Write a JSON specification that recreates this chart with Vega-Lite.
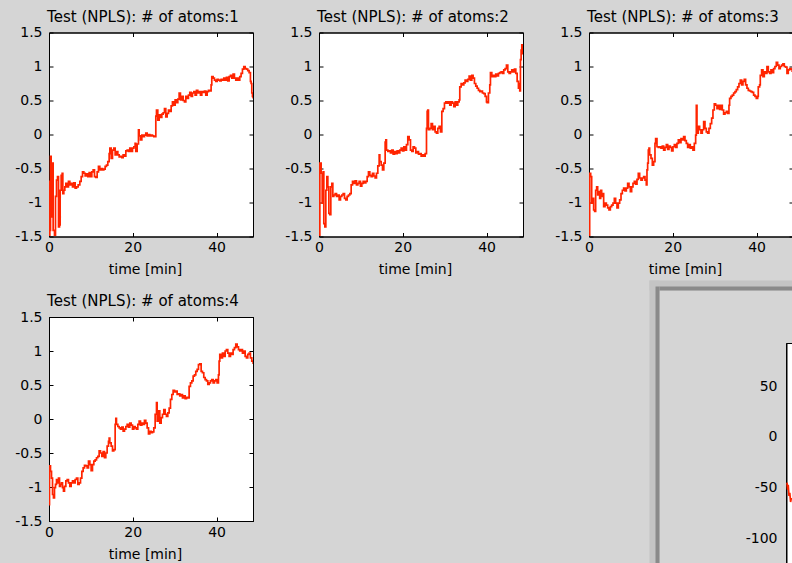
{
  "$schema": "https://vega.github.io/schema/vega-lite/v6.json",
  "background": "#d5d5d5",
  "padding": {"left": 14, "top": 8.5, "right": 0, "bottom": 0},
  "datasets": {
    "p1": [
      {"t":0,"v":-0.69},{"t":0.04,"v":-1.48},{"t":0.2,"v":-1.41},{"t":0.36,"v":-0.32},{"t":0.52,"v":-0.42},{"t":0.68,"v":-1.21},{"t":0.84,"v":-0.42},{"t":0.99,"v":-1.41},{"t":1.31,"v":-1.48},{"t":1.55,"v":-0.91},{"t":1.79,"v":-0.67},{"t":2.03,"v":-0.62},{"t":2.27,"v":-1.36},{"t":2.51,"v":-1.33},{"t":2.67,"v":-0.82},{"t":2.9,"v":-0.6},{"t":3.14,"v":-0.57},{"t":3.3,"v":-0.87},{"t":3.54,"v":-0.82},{"t":3.78,"v":-0.77},{"t":4.02,"v":-0.72},{"t":4.34,"v":-0.77},{"t":4.65,"v":-0.69},{"t":4.97,"v":-0.74},{"t":5.29,"v":-0.72},{"t":5.61,"v":-0.77},{"t":5.93,"v":-0.71},{"t":6.24,"v":-0.79},{"t":6.56,"v":-0.77},{"t":6.96,"v":-0.74},{"t":7.36,"v":-0.69},{"t":7.68,"v":-0.62},{"t":8.0,"v":-0.55},{"t":8.31,"v":-0.57},{"t":8.63,"v":-0.61},{"t":8.95,"v":-0.58},{"t":9.27,"v":-0.62},{"t":9.59,"v":-0.56},{"t":9.9,"v":-0.62},{"t":10.22,"v":-0.55},{"t":10.54,"v":-0.52},{"t":10.86,"v":-0.62},{"t":11.18,"v":-0.63},{"t":11.5,"v":-0.55},{"t":11.81,"v":-0.47},{"t":12.13,"v":-0.52},{"t":12.45,"v":-0.5},{"t":12.77,"v":-0.52},{"t":13.09,"v":-0.51},{"t":13.4,"v":-0.47},{"t":13.72,"v":-0.45},{"t":14.04,"v":-0.4},{"t":14.36,"v":-0.28},{"t":14.52,"v":-0.2},{"t":14.84,"v":-0.35},{"t":15.16,"v":-0.23},{"t":15.47,"v":-0.2},{"t":15.79,"v":-0.3},{"t":16.11,"v":-0.25},{"t":16.43,"v":-0.3},{"t":16.75,"v":-0.33},{"t":17.06,"v":-0.32},{"t":17.38,"v":-0.34},{"t":17.7,"v":-0.3},{"t":18.02,"v":-0.32},{"t":18.34,"v":-0.24},{"t":18.66,"v":-0.23},{"t":18.97,"v":-0.25},{"t":19.29,"v":-0.2},{"t":19.61,"v":-0.25},{"t":19.93,"v":-0.2},{"t":20.25,"v":-0.18},{"t":20.56,"v":-0.13},{"t":20.72,"v":-0.25},{"t":21.04,"v":-0.14},{"t":21.36,"v":0.07},{"t":21.52,"v":-0.02},{"t":21.84,"v":-0.08},{"t":22.16,"v":-0.01},{"t":22.47,"v":-0.03},{"t":22.79,"v":-0.01},{"t":23.11,"v":0.02},{"t":23.43,"v":-0.02},{"t":23.75,"v":0.0},{"t":24.06,"v":-0.02},{"t":24.38,"v":-0.01},{"t":24.7,"v":-0.02},{"t":25.02,"v":-0.03},{"t":25.34,"v":-0.03},{"t":25.5,"v":0.27},{"t":25.66,"v":0.36},{"t":25.97,"v":0.21},{"t":26.29,"v":0.29},{"t":26.61,"v":0.25},{"t":26.93,"v":0.3},{"t":27.25,"v":0.32},{"t":27.57,"v":0.38},{"t":27.88,"v":0.26},{"t":28.2,"v":0.31},{"t":28.52,"v":0.36},{"t":28.84,"v":0.34},{"t":29.16,"v":0.42},{"t":29.47,"v":0.48},{"t":29.79,"v":0.43},{"t":30.11,"v":0.51},{"t":30.43,"v":0.47},{"t":30.75,"v":0.52},{"t":31.07,"v":0.61},{"t":31.38,"v":0.51},{"t":31.7,"v":0.56},{"t":32.02,"v":0.5},{"t":32.34,"v":0.48},{"t":32.66,"v":0.56},{"t":32.98,"v":0.53},{"t":33.29,"v":0.58},{"t":33.61,"v":0.62},{"t":33.93,"v":0.56},{"t":34.25,"v":0.61},{"t":34.57,"v":0.63},{"t":34.88,"v":0.58},{"t":35.2,"v":0.65},{"t":35.52,"v":0.61},{"t":35.84,"v":0.63},{"t":36.16,"v":0.58},{"t":36.48,"v":0.63},{"t":36.79,"v":0.62},{"t":37.11,"v":0.64},{"t":37.43,"v":0.58},{"t":37.75,"v":0.63},{"t":38.07,"v":0.65},{"t":38.39,"v":0.64},{"t":38.7,"v":0.73},{"t":38.86,"v":0.85},{"t":39.18,"v":0.83},{"t":39.5,"v":0.8},{"t":39.82,"v":0.78},{"t":40.14,"v":0.81},{"t":40.45,"v":0.8},{"t":40.77,"v":0.79},{"t":41.09,"v":0.81},{"t":41.41,"v":0.8},{"t":41.73,"v":0.83},{"t":42.05,"v":0.8},{"t":42.36,"v":0.84},{"t":42.68,"v":0.79},{"t":43.0,"v":0.85},{"t":43.32,"v":0.87},{"t":43.64,"v":0.83},{"t":43.95,"v":0.89},{"t":44.27,"v":0.83},{"t":44.59,"v":0.8},{"t":44.91,"v":0.83},{"t":45.23,"v":0.8},{"t":45.54,"v":0.85},{"t":45.86,"v":0.9},{"t":46.18,"v":0.96},{"t":46.5,"v":1.0},{"t":46.82,"v":0.97},{"t":47.14,"v":0.96},{"t":47.45,"v":0.94},{"t":47.77,"v":0.91},{"t":48.09,"v":0.78},{"t":48.25,"v":0.75},{"t":48.41,"v":0.61},{"t":48.57,"v":0.56},{"t":48.73,"v":0.53}
    ],
    "p2": [
      {"t":0,"v":-0.69},{"t":0.04,"v":-1.48},{"t":0.2,"v":-0.42},{"t":0.52,"v":-0.57},{"t":0.76,"v":-1.01},{"t":0.99,"v":-0.55},{"t":1.15,"v":-1.31},{"t":1.39,"v":-1.36},{"t":1.63,"v":-0.82},{"t":1.87,"v":-0.62},{"t":2.11,"v":-0.77},{"t":2.35,"v":-1.16},{"t":2.59,"v":-1.18},{"t":2.82,"v":-0.77},{"t":3.06,"v":-0.72},{"t":3.3,"v":-0.91},{"t":3.54,"v":-0.89},{"t":3.86,"v":-0.87},{"t":4.18,"v":-0.91},{"t":4.49,"v":-0.89},{"t":4.81,"v":-0.96},{"t":5.13,"v":-0.91},{"t":5.45,"v":-0.89},{"t":5.77,"v":-0.87},{"t":6.09,"v":-0.94},{"t":6.4,"v":-0.96},{"t":6.72,"v":-0.91},{"t":7.04,"v":-0.89},{"t":7.36,"v":-0.87},{"t":7.68,"v":-0.74},{"t":8.0,"v":-0.69},{"t":8.31,"v":-0.72},{"t":8.63,"v":-0.68},{"t":8.95,"v":-0.74},{"t":9.27,"v":-0.72},{"t":9.59,"v":-0.69},{"t":9.9,"v":-0.76},{"t":10.22,"v":-0.72},{"t":10.54,"v":-0.69},{"t":10.86,"v":-0.71},{"t":11.18,"v":-0.69},{"t":11.5,"v":-0.62},{"t":11.81,"v":-0.55},{"t":12.13,"v":-0.6},{"t":12.45,"v":-0.62},{"t":12.77,"v":-0.57},{"t":13.09,"v":-0.61},{"t":13.4,"v":-0.64},{"t":13.72,"v":-0.57},{"t":14.04,"v":-0.46},{"t":14.36,"v":-0.3},{"t":14.52,"v":-0.4},{"t":14.84,"v":-0.45},{"t":15.16,"v":-0.52},{"t":15.47,"v":-0.42},{"t":15.79,"v":-0.11},{"t":15.95,"v":-0.08},{"t":16.11,"v":-0.23},{"t":16.43,"v":-0.25},{"t":16.75,"v":-0.24},{"t":17.06,"v":-0.27},{"t":17.38,"v":-0.23},{"t":17.7,"v":-0.29},{"t":18.02,"v":-0.25},{"t":18.34,"v":-0.28},{"t":18.66,"v":-0.24},{"t":18.97,"v":-0.27},{"t":19.29,"v":-0.23},{"t":19.61,"v":-0.2},{"t":19.93,"v":-0.24},{"t":20.25,"v":-0.18},{"t":20.56,"v":-0.23},{"t":20.88,"v":-0.15},{"t":21.2,"v":-0.03},{"t":21.52,"v":-0.08},{"t":21.84,"v":-0.23},{"t":22.16,"v":-0.25},{"t":22.47,"v":-0.18},{"t":22.79,"v":-0.2},{"t":23.11,"v":-0.27},{"t":23.43,"v":-0.25},{"t":23.75,"v":-0.29},{"t":24.06,"v":-0.28},{"t":24.38,"v":-0.32},{"t":24.7,"v":-0.3},{"t":25.02,"v":-0.32},{"t":25.34,"v":-0.28},{"t":25.66,"v":0.09},{"t":25.82,"v":0.34},{"t":25.97,"v":0.36},{"t":26.13,"v":0.07},{"t":26.45,"v":0.09},{"t":26.77,"v":0.16},{"t":27.09,"v":0.07},{"t":27.41,"v":0.12},{"t":27.72,"v":0.04},{"t":28.04,"v":0.02},{"t":28.36,"v":0.09},{"t":28.68,"v":0.12},{"t":29.0,"v":0.04},{"t":29.32,"v":0.34},{"t":29.63,"v":0.38},{"t":29.95,"v":0.46},{"t":30.27,"v":0.48},{"t":30.59,"v":0.46},{"t":30.91,"v":0.48},{"t":31.22,"v":0.43},{"t":31.54,"v":0.48},{"t":31.86,"v":0.46},{"t":32.18,"v":0.41},{"t":32.5,"v":0.48},{"t":32.82,"v":0.43},{"t":33.13,"v":0.48},{"t":33.45,"v":0.51},{"t":33.61,"v":0.7},{"t":33.93,"v":0.75},{"t":34.25,"v":0.73},{"t":34.57,"v":0.76},{"t":34.88,"v":0.8},{"t":35.2,"v":0.78},{"t":35.52,"v":0.81},{"t":35.84,"v":0.86},{"t":36.16,"v":0.8},{"t":36.48,"v":0.87},{"t":36.79,"v":0.83},{"t":37.11,"v":0.75},{"t":37.43,"v":0.71},{"t":37.75,"v":0.68},{"t":38.07,"v":0.65},{"t":38.39,"v":0.63},{"t":38.7,"v":0.64},{"t":39.02,"v":0.61},{"t":39.34,"v":0.6},{"t":39.66,"v":0.56},{"t":39.98,"v":0.48},{"t":40.14,"v":0.47},{"t":40.45,"v":0.61},{"t":40.77,"v":0.73},{"t":40.93,"v":0.91},{"t":41.25,"v":0.85},{"t":41.57,"v":0.87},{"t":41.89,"v":0.85},{"t":42.2,"v":0.89},{"t":42.52,"v":0.86},{"t":42.84,"v":0.9},{"t":43.16,"v":0.91},{"t":43.48,"v":0.92},{"t":43.79,"v":0.9},{"t":44.11,"v":0.95},{"t":44.43,"v":0.97},{"t":44.75,"v":1.02},{"t":45.07,"v":0.92},{"t":45.39,"v":0.9},{"t":45.7,"v":0.92},{"t":46.02,"v":0.95},{"t":46.34,"v":0.92},{"t":46.66,"v":0.96},{"t":46.98,"v":0.9},{"t":47.3,"v":0.78},{"t":47.61,"v":0.68},{"t":47.77,"v":0.75},{"t":47.93,"v":0.64},{"t":48.09,"v":1.1},{"t":48.25,"v":1.24},{"t":48.41,"v":1.32},{"t":48.57,"v":1.19},{"t":48.73,"v":1.22}
    ],
    "p3": [
      {"t":0,"v":-1.48},{"t":0.16,"v":-0.57},{"t":0.4,"v":-0.62},{"t":0.64,"v":-1.01},{"t":0.88,"v":-0.94},{"t":1.11,"v":-1.11},{"t":1.35,"v":-1.13},{"t":1.59,"v":-0.82},{"t":1.83,"v":-0.77},{"t":2.07,"v":-0.89},{"t":2.31,"v":-0.84},{"t":2.55,"v":-0.94},{"t":2.79,"v":-0.82},{"t":3.02,"v":-0.91},{"t":3.26,"v":-0.87},{"t":3.5,"v":-1.06},{"t":3.82,"v":-1.01},{"t":4.14,"v":-1.04},{"t":4.46,"v":-1.08},{"t":4.77,"v":-1.11},{"t":5.09,"v":-1.06},{"t":5.41,"v":-1.04},{"t":5.73,"v":-1.01},{"t":6.05,"v":-0.94},{"t":6.36,"v":-1.01},{"t":6.68,"v":-1.08},{"t":7.0,"v":-1.01},{"t":7.32,"v":-0.96},{"t":7.64,"v":-0.87},{"t":7.96,"v":-0.82},{"t":8.27,"v":-0.79},{"t":8.59,"v":-0.83},{"t":8.91,"v":-0.79},{"t":9.23,"v":-0.72},{"t":9.55,"v":-0.77},{"t":9.87,"v":-0.84},{"t":10.18,"v":-0.77},{"t":10.5,"v":-0.72},{"t":10.82,"v":-0.69},{"t":11.14,"v":-0.73},{"t":11.46,"v":-0.66},{"t":11.77,"v":-0.57},{"t":12.09,"v":-0.64},{"t":12.41,"v":-0.67},{"t":12.73,"v":-0.64},{"t":13.05,"v":-0.62},{"t":13.37,"v":-0.67},{"t":13.68,"v":-0.74},{"t":13.84,"v":-0.52},{"t":14.0,"v":-0.42},{"t":14.16,"v":-0.23},{"t":14.32,"v":-0.2},{"t":14.48,"v":-0.3},{"t":14.8,"v":-0.35},{"t":15.12,"v":-0.45},{"t":15.43,"v":-0.4},{"t":15.75,"v":-0.13},{"t":15.91,"v":-0.06},{"t":16.23,"v":-0.18},{"t":16.55,"v":-0.19},{"t":16.87,"v":-0.18},{"t":17.18,"v":-0.2},{"t":17.5,"v":-0.17},{"t":17.82,"v":-0.23},{"t":18.14,"v":-0.19},{"t":18.46,"v":-0.15},{"t":18.78,"v":-0.22},{"t":19.09,"v":-0.17},{"t":19.41,"v":-0.19},{"t":19.73,"v":-0.24},{"t":20.05,"v":-0.18},{"t":20.37,"v":-0.15},{"t":20.68,"v":-0.19},{"t":21.0,"v":-0.13},{"t":21.32,"v":-0.08},{"t":21.64,"v":-0.12},{"t":21.96,"v":-0.06},{"t":22.28,"v":-0.08},{"t":22.59,"v":-0.03},{"t":22.91,"v":-0.09},{"t":23.23,"v":-0.13},{"t":23.55,"v":-0.19},{"t":23.87,"v":-0.15},{"t":24.18,"v":-0.2},{"t":24.5,"v":-0.18},{"t":24.82,"v":-0.23},{"t":25.14,"v":-0.13},{"t":25.46,"v":-0.01},{"t":25.62,"v":0.43},{"t":25.78,"v":0.02},{"t":26.09,"v":0.12},{"t":26.41,"v":0.07},{"t":26.73,"v":0.02},{"t":27.05,"v":0.07},{"t":27.37,"v":0.19},{"t":27.69,"v":0.09},{"t":28.0,"v":0.04},{"t":28.32,"v":0.02},{"t":28.64,"v":0.09},{"t":28.96,"v":0.16},{"t":29.28,"v":0.24},{"t":29.59,"v":0.36},{"t":29.91,"v":0.45},{"t":30.23,"v":0.43},{"t":30.55,"v":0.38},{"t":30.87,"v":0.43},{"t":31.19,"v":0.37},{"t":31.5,"v":0.43},{"t":31.82,"v":0.36},{"t":32.14,"v":0.3},{"t":32.46,"v":0.32},{"t":32.78,"v":0.34},{"t":33.1,"v":0.31},{"t":33.41,"v":0.43},{"t":33.57,"v":0.53},{"t":33.89,"v":0.56},{"t":34.21,"v":0.58},{"t":34.53,"v":0.61},{"t":34.85,"v":0.63},{"t":35.16,"v":0.66},{"t":35.48,"v":0.7},{"t":35.8,"v":0.75},{"t":36.12,"v":0.8},{"t":36.44,"v":0.73},{"t":36.75,"v":0.78},{"t":37.07,"v":0.81},{"t":37.39,"v":0.73},{"t":37.71,"v":0.68},{"t":38.03,"v":0.65},{"t":38.35,"v":0.64},{"t":38.66,"v":0.63},{"t":38.98,"v":0.62},{"t":39.3,"v":0.58},{"t":39.62,"v":0.56},{"t":39.94,"v":0.53},{"t":40.26,"v":0.56},{"t":40.41,"v":0.7},{"t":40.73,"v":0.73},{"t":40.89,"v":0.87},{"t":41.21,"v":0.95},{"t":41.53,"v":0.85},{"t":41.85,"v":0.92},{"t":42.17,"v":0.9},{"t":42.48,"v":1.0},{"t":42.8,"v":0.92},{"t":43.12,"v":0.9},{"t":43.44,"v":0.95},{"t":43.76,"v":0.91},{"t":44.07,"v":0.97},{"t":44.39,"v":1.0},{"t":44.71,"v":1.06},{"t":45.03,"v":1.02},{"t":45.35,"v":0.97},{"t":45.66,"v":1.0},{"t":45.98,"v":1.02},{"t":46.3,"v":1.04},{"t":46.62,"v":1.0},{"t":46.94,"v":0.99},{"t":47.26,"v":0.9},{"t":47.57,"v":0.95},{"t":47.89,"v":0.97},{"t":48.21,"v":0.96},{"t":48.5,"v":0.93},{"t":48.73,"v":0.9}
    ],
    "p4": [
      {"t":0,"v":-1.26},{"t":0.12,"v":-0.69},{"t":0.36,"v":-0.77},{"t":0.6,"v":-0.87},{"t":0.84,"v":-1.11},{"t":1.07,"v":-1.16},{"t":1.31,"v":-1.01},{"t":1.55,"v":-0.96},{"t":1.79,"v":-0.89},{"t":2.03,"v":-0.94},{"t":2.27,"v":-0.87},{"t":2.51,"v":-0.99},{"t":2.74,"v":-0.96},{"t":2.98,"v":-0.94},{"t":3.22,"v":-1.01},{"t":3.46,"v":-1.06},{"t":3.7,"v":-0.99},{"t":4.02,"v":-0.91},{"t":4.34,"v":-0.89},{"t":4.65,"v":-0.94},{"t":4.97,"v":-0.99},{"t":5.29,"v":-0.94},{"t":5.61,"v":-0.91},{"t":5.93,"v":-0.94},{"t":6.24,"v":-0.89},{"t":6.56,"v":-0.87},{"t":6.88,"v":-0.96},{"t":7.2,"v":-0.94},{"t":7.52,"v":-0.87},{"t":7.84,"v":-0.77},{"t":8.15,"v":-0.72},{"t":8.47,"v":-0.68},{"t":8.79,"v":-0.69},{"t":9.11,"v":-0.72},{"t":9.43,"v":-0.62},{"t":9.75,"v":-0.67},{"t":10.06,"v":-0.76},{"t":10.38,"v":-0.67},{"t":10.7,"v":-0.62},{"t":11.02,"v":-0.6},{"t":11.34,"v":-0.57},{"t":11.65,"v":-0.55},{"t":11.97,"v":-0.47},{"t":12.29,"v":-0.5},{"t":12.61,"v":-0.55},{"t":12.93,"v":-0.48},{"t":13.25,"v":-0.57},{"t":13.56,"v":-0.5},{"t":13.88,"v":-0.4},{"t":14.2,"v":-0.33},{"t":14.36,"v":-0.28},{"t":14.52,"v":-0.35},{"t":14.84,"v":-0.4},{"t":15.16,"v":-0.47},{"t":15.47,"v":-0.45},{"t":15.79,"v":-0.08},{"t":15.95,"v":0.01},{"t":16.11,"v":-0.08},{"t":16.43,"v":-0.11},{"t":16.75,"v":-0.13},{"t":17.06,"v":-0.15},{"t":17.38,"v":-0.12},{"t":17.7,"v":-0.18},{"t":18.02,"v":-0.15},{"t":18.34,"v":-0.11},{"t":18.66,"v":-0.08},{"t":18.97,"v":-0.12},{"t":19.29,"v":-0.06},{"t":19.61,"v":-0.09},{"t":19.93,"v":-0.15},{"t":20.25,"v":-0.11},{"t":20.56,"v":-0.13},{"t":20.88,"v":-0.15},{"t":21.2,"v":-0.08},{"t":21.52,"v":-0.03},{"t":21.84,"v":-0.09},{"t":22.16,"v":-0.06},{"t":22.47,"v":-0.08},{"t":22.79,"v":-0.02},{"t":23.11,"v":-0.06},{"t":23.43,"v":-0.13},{"t":23.75,"v":-0.22},{"t":24.06,"v":-0.18},{"t":24.38,"v":-0.2},{"t":24.7,"v":-0.19},{"t":25.02,"v":-0.13},{"t":25.34,"v":0.07},{"t":25.66,"v":0.24},{"t":25.82,"v":-0.03},{"t":26.13,"v":0.12},{"t":26.45,"v":-0.06},{"t":26.77,"v":0.02},{"t":27.09,"v":0.07},{"t":27.41,"v":0.14},{"t":27.72,"v":0.07},{"t":28.04,"v":0.04},{"t":28.36,"v":0.09},{"t":28.68,"v":0.16},{"t":29.0,"v":0.29},{"t":29.32,"v":0.36},{"t":29.63,"v":0.42},{"t":29.95,"v":0.4},{"t":30.27,"v":0.41},{"t":30.59,"v":0.36},{"t":30.91,"v":0.37},{"t":31.22,"v":0.34},{"t":31.54,"v":0.36},{"t":31.86,"v":0.31},{"t":32.18,"v":0.34},{"t":32.5,"v":0.3},{"t":32.82,"v":0.32},{"t":33.13,"v":0.31},{"t":33.45,"v":0.48},{"t":33.77,"v":0.53},{"t":34.09,"v":0.56},{"t":34.41,"v":0.63},{"t":34.73,"v":0.65},{"t":35.04,"v":0.7},{"t":35.36,"v":0.73},{"t":35.68,"v":0.8},{"t":36.0,"v":0.81},{"t":36.32,"v":0.7},{"t":36.63,"v":0.68},{"t":36.95,"v":0.61},{"t":37.27,"v":0.58},{"t":37.59,"v":0.56},{"t":37.91,"v":0.51},{"t":38.23,"v":0.53},{"t":38.54,"v":0.56},{"t":38.86,"v":0.58},{"t":39.18,"v":0.53},{"t":39.5,"v":0.56},{"t":39.82,"v":0.58},{"t":40.14,"v":0.53},{"t":40.45,"v":0.65},{"t":40.61,"v":0.85},{"t":40.77,"v":0.95},{"t":41.09,"v":0.9},{"t":41.41,"v":0.97},{"t":41.73,"v":0.92},{"t":42.05,"v":1.0},{"t":42.36,"v":1.02},{"t":42.68,"v":0.97},{"t":43.0,"v":0.92},{"t":43.32,"v":0.97},{"t":43.64,"v":0.95},{"t":43.95,"v":1.02},{"t":44.27,"v":1.05},{"t":44.59,"v":1.1},{"t":44.91,"v":1.06},{"t":45.23,"v":1.02},{"t":45.54,"v":1.0},{"t":45.86,"v":1.02},{"t":46.18,"v":0.97},{"t":46.5,"v":1.0},{"t":46.82,"v":0.92},{"t":47.14,"v":0.9},{"t":47.45,"v":0.95},{"t":47.77,"v":0.97},{"t":48.09,"v":0.9},{"t":48.41,"v":0.85},{"t":48.73,"v":0.81}
    ],
    "win": [
      {"t":0,"v":-45},{"t":0.08,"v":-52},{"t":0.15,"v":-47},{"t":0.25,"v":-58},{"t":0.35,"v":-55},{"t":0.45,"v":-64},{"t":0.55,"v":-60}
    ]
  },
  "columns": 3,
  "spacing": {"row": 34.5, "column": 66},
  "bounds": "flush",
  "align": "all",
  "concat": [
    {
      "width": 204, "height": 204,
      "view": {"fill": "white", "stroke": "black", "strokeWidth": 1},
      "title": {"text": "Test (NPLS): # of atoms:1", "dx": -8},
      "data": {"name": "p1"},
      "layer": [
        {"mark": {"type": "line", "color": "#ff2400", "strokeWidth": 1.7, "interpolate": "step-after", "clip": true},
         "encoding": {
           "x": {"field": "t", "type": "quantitative", "scale": {"domain": [0, 48.7], "nice": false, "zero": false}, "axis": {"orient": "bottom", "values": [0, 20, 40], "title": "time [min]", "titleX": 96, "titleY": 37, "titleBaseline": "alphabetic"}},
           "y": {"field": "v", "type": "quantitative", "scale": {"domain": [-1.5, 1.5], "nice": false, "zero": false}, "axis": {"orient": "left", "values": [-1.5, -1, -0.5, 0, 0.5, 1, 1.5], "title": null}}
         }},
        {"mark": {"type": "line", "opacity": 0},
         "encoding": {
           "x": {"field": "t", "type": "quantitative", "axis": {"orient": "top", "values": [0, 20, 40], "labels": false, "title": null}},
           "y": {"field": "v", "type": "quantitative", "axis": {"orient": "right", "values": [-1.5, -1, -0.5, 0, 0.5, 1, 1.5], "labels": false, "title": null}}
         }}
      ],
      "resolve": {"axis": {"x": "independent", "y": "independent"}}
    },
    {
      "width": 204, "height": 204,
      "view": {"fill": "white", "stroke": "black", "strokeWidth": 1},
      "title": {"text": "Test (NPLS): # of atoms:2", "dx": -8},
      "data": {"name": "p2"},
      "layer": [
        {"mark": {"type": "line", "color": "#ff2400", "strokeWidth": 1.7, "interpolate": "step-after", "clip": true},
         "encoding": {
           "x": {"field": "t", "type": "quantitative", "scale": {"domain": [0, 48.7], "nice": false, "zero": false}, "axis": {"orient": "bottom", "values": [0, 20, 40], "title": "time [min]", "titleX": 96, "titleY": 37, "titleBaseline": "alphabetic"}},
           "y": {"field": "v", "type": "quantitative", "scale": {"domain": [-1.5, 1.5], "nice": false, "zero": false}, "axis": {"orient": "left", "values": [-1.5, -1, -0.5, 0, 0.5, 1, 1.5], "title": null}}
         }},
        {"mark": {"type": "line", "opacity": 0},
         "encoding": {
           "x": {"field": "t", "type": "quantitative", "axis": {"orient": "top", "values": [0, 20, 40], "labels": false, "title": null}},
           "y": {"field": "v", "type": "quantitative", "axis": {"orient": "right", "values": [-1.5, -1, -0.5, 0, 0.5, 1, 1.5], "labels": false, "title": null}}
         }}
      ],
      "resolve": {"axis": {"x": "independent", "y": "independent"}}
    },
    {
      "width": 204, "height": 204,
      "view": {"fill": "white", "stroke": "black", "strokeWidth": 1},
      "title": {"text": "Test (NPLS): # of atoms:3", "dx": -8},
      "data": {"name": "p3"},
      "layer": [
        {"mark": {"type": "line", "color": "#ff2400", "strokeWidth": 1.7, "interpolate": "step-after", "clip": true},
         "encoding": {
           "x": {"field": "t", "type": "quantitative", "scale": {"domain": [0, 48.7], "nice": false, "zero": false}, "axis": {"orient": "bottom", "values": [0, 20, 40], "title": "time [min]", "titleX": 96, "titleY": 37, "titleBaseline": "alphabetic"}},
           "y": {"field": "v", "type": "quantitative", "scale": {"domain": [-1.5, 1.5], "nice": false, "zero": false}, "axis": {"orient": "left", "values": [-1.5, -1, -0.5, 0, 0.5, 1, 1.5], "title": null}}
         }},
        {"mark": {"type": "line", "opacity": 0},
         "encoding": {
           "x": {"field": "t", "type": "quantitative", "axis": {"orient": "top", "values": [0, 20, 40], "labels": false, "title": null}},
           "y": {"field": "v", "type": "quantitative", "axis": {"orient": "right", "values": [-1.5, -1, -0.5, 0, 0.5, 1, 1.5], "labels": false, "title": null}}
         }}
      ],
      "resolve": {"axis": {"x": "independent", "y": "independent"}}
    },
    {
      "width": 204, "height": 204,
      "view": {"fill": "white", "stroke": "black", "strokeWidth": 1},
      "title": {"text": "Test (NPLS): # of atoms:4", "dx": -8},
      "data": {"name": "p4"},
      "layer": [
        {"mark": {"type": "line", "color": "#ff2400", "strokeWidth": 1.7, "interpolate": "step-after", "clip": true},
         "encoding": {
           "x": {"field": "t", "type": "quantitative", "scale": {"domain": [0, 48.7], "nice": false, "zero": false}, "axis": {"orient": "bottom", "values": [0, 20, 40], "title": "time [min]", "titleX": 96, "titleY": 37, "titleBaseline": "alphabetic"}},
           "y": {"field": "v", "type": "quantitative", "scale": {"domain": [-1.5, 1.5], "nice": false, "zero": false}, "axis": {"orient": "left", "values": [-1.5, -1, -0.5, 0, 0.5, 1, 1.5], "title": null}}
         }},
        {"mark": {"type": "line", "opacity": 0},
         "encoding": {
           "x": {"field": "t", "type": "quantitative", "axis": {"orient": "top", "values": [0, 20, 40], "labels": false, "title": null}},
           "y": {"field": "v", "type": "quantitative", "axis": {"orient": "right", "values": [-1.5, -1, -0.5, 0, 0.5, 1, 1.5], "labels": false, "title": null}}
         }}
      ],
      "resolve": {"axis": {"x": "independent", "y": "independent"}}
    },
    {
      "width": 204, "height": 1,
      "view": {"fill": null, "stroke": null},
      "data": {"values": [{"t": 0}]},
      "mark": {"type": "point", "opacity": 0},
      "encoding": {}
    },
    {
      "width": 204, "height": 250,
      "view": {"fill": null, "stroke": null},
      "data": {"name": "win"},
      "layer": [
        {"mark": {"type": "line", "opacity": 0},
         "encoding": {
           "x": {"field": "t", "type": "quantitative", "scale": {"domain": [0, 1], "range": [60, 204], "nice": false, "zero": false}, "axis": {"orient": "top", "offset": 32, "domainWidth": 10, "domainColor": "#c4c4c4", "ticks": false, "labels": false, "title": null}},
           "y": {"field": "v", "type": "quantitative", "scale": {"domain": [0, 1], "range": [250, -37], "nice": false, "zero": false}, "axis": {"orient": "left", "offset": -65, "domainWidth": 10, "domainColor": "#c4c4c4", "ticks": false, "labels": false, "title": null}}
         }},
        {"mark": {"type": "line", "opacity": 0},
         "encoding": {
           "x": {"field": "t", "type": "quantitative", "scale": {"domain": [0, 1], "range": [66, 204], "nice": false, "zero": false}, "axis": {"orient": "top", "offset": 29, "domainWidth": 4, "domainColor": "#8a8a8a", "ticks": false, "labels": false, "title": null}},
           "y": {"field": "v", "type": "quantitative", "scale": {"domain": [0, 1], "range": [250, -31], "nice": false, "zero": false}, "axis": {"orient": "left", "offset": -68, "domainWidth": 4, "domainColor": "#8a8a8a", "ticks": false, "labels": false, "title": null}}
         }},
        {"mark": {"type": "rect", "fill": "white", "stroke": "black", "strokeWidth": 1, "clip": true},
         "encoding": {
           "x": {"datum": 0, "type": "quantitative", "scale": {"domain": [0, 50], "range": [198, 598], "nice": false, "zero": false}, "axis": null},
           "x2": {"datum": 50},
           "y": {"datum": -128, "type": "quantitative", "scale": {"domain": [-128, 92], "range": [250, 26.5], "nice": false, "zero": false}, "axis": {"orient": "left", "offset": -198, "values": [50, 0, -50, -100], "title": null, "labelPadding": 14}},
           "y2": {"datum": 92}
         }},
        {"mark": {"type": "line", "color": "#ff2400", "strokeWidth": 1.7, "clip": true},
         "encoding": {
           "x": {"field": "t", "type": "quantitative", "scale": {"domain": [0, 50], "range": [198, 598], "nice": false, "zero": false}, "axis": null},
           "y": {"field": "v", "type": "quantitative", "scale": {"domain": [-128, 92], "range": [250, 26.5], "nice": false, "zero": false}, "axis": null}
         }}
      ],
      "resolve": {"scale": {"x": "independent", "y": "independent"}, "axis": {"x": "independent", "y": "independent"}}
    }
  ],
  "config": {
    "font": "DejaVu Sans",
    "view": {"stroke": null},
    "title": {"font": "DejaVu Sans", "fontSize": 15, "fontWeight": "normal", "color": "#000000", "baseline": "alphabetic", "offset": 1, "anchor": "middle"},
    "axis": {
      "domain": true, "ticks": true, "domainWidth": 1, "tickWidth": 1,
      "domainColor": "#000000", "tickColor": "#000000", "labelColor": "#000000", "titleColor": "#000000",
      "labelFont": "DejaVu Sans", "titleFont": "DejaVu Sans", "labelFontSize": 14, "titleFontSize": 14, "titleFontWeight": "normal",
      "tickSize": -4, "grid": false, "labelFlush": false, "labelOverlap": false, "labelBound": false,
      "labelExpr": "datum.value + ''"
    },
    "axisX": {"labelPadding": 8},
    "axisY": {"labelPadding": 11}
  }
}
